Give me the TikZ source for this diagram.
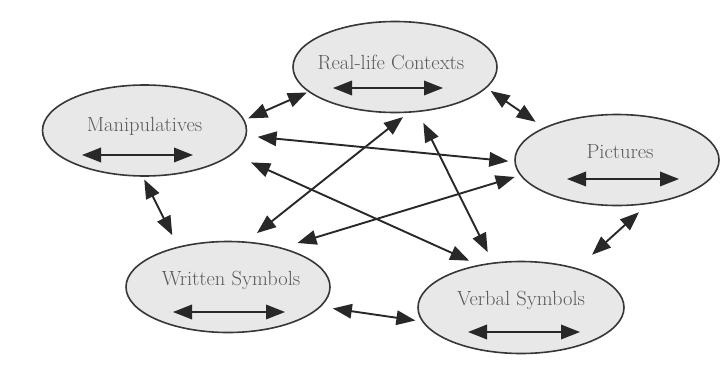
\documentclass[tikz,border=0pt]{standalone}
\usepackage{fontspec}
\usetikzlibrary{shapes.geometric,arrows.meta}
\definecolor{fillgray}{RGB}{232,232,232}
\definecolor{edgegray}{RGB}{55,55,55}
\definecolor{textgray}{RGB}{90,90,90}
\definecolor{linegray}{RGB}{40,40,40}
\begin{document}
\begin{tikzpicture}[x=1pt,y=-1pt,
  rep/.style={ellipse, draw=edgegray, line width=1.6pt, fill=fillgray,
    minimum width=204pt, minimum height=91pt, inner sep=0pt},
  lbl/.style={anchor=base, text=textgray, font=\fontsize{20.5}{24}\selectfont, inner sep=0pt},
  link/.style={{Triangle[length=19pt,width=14.5pt]}-{Triangle[length=19pt,width=14.5pt]},
    draw=linegray, line width=1.9pt}]
\useasboundingbox (0,0) rectangle (720,383);

% the five representations
\node[rep] (R) at (395,67)  {};
\node[rep] (M) at (144.5,130.5) {};
\node[rep] (P) at (617,160) {};
\node[rep] (W) at (228,287) {};
\node[rep, minimum width=206pt, minimum height=92pt] (V) at (521,307.5) {};

% names
\node[lbl] (Rt) at ([shift={(-4,2)}]R.center) {Real-life Contexts};
\node[lbl] (Mt) at ([shift={(0,0.5)}]M.center) {Manipulatives};
\node[lbl] (Pt) at ([shift={(3,-2)}]P.center) {Pictures};
\node[lbl] (Wt) at ([shift={(3,-2)}]W.center) {Written Symbols};
\node[lbl] (Vt) at ([shift={(0,-2.5)}]V.center) {Verbal Symbols};

% translations within each representation
\draw[link] ([shift={(-62,21)}]R.center) -- ([shift={(48,21)}]R.center);
\draw[link] ([shift={(-62.5,24.5)}]M.center) -- ([shift={(48.5,24.5)}]M.center);
\draw[link] ([shift={(-50,19)}]P.center) -- ([shift={(62,19)}]P.center);
\draw[link] ([shift={(-55,25)}]W.center) -- ([shift={(57,25)}]W.center);
\draw[link] ([shift={(-53,24.5)}]V.center) -- ([shift={(59,24.5)}]V.center);

% translations between representations
\draw[link, shorten <=4pt,  shorten >=1.5pt] (M.6.6)   -- (R.196);
\draw[link, shorten <=5pt,  shorten >=10pt]  (R.-13.7) -- (P.156.9);
\draw[link, shorten <=11pt, shorten >=6pt]   (M.-3.5)  -- (P.181.6);
\draw[link, shorten <=20pt, shorten >=10pt]  (M.-15.8) -- (V.135.6);
\draw[link, shorten <=6.6pt,shorten >=13.5pt](R.-74.6) -- (W.68.9);
\draw[link, shorten <=12pt, shorten >=11.5pt](R.-63)   -- (V.122.2);
\draw[link, shorten <=5.6pt,shorten >=16pt]  (P.189.6) -- (W.36.4);
\draw[link, shorten <=3pt,  shorten >=12.7pt](M.-92.3) -- (W.141.9);
\draw[link, shorten <=12pt, shorten >=20pt]  (P.-55.1) -- (V.35.7);
\draw[link, shorten <=12pt, shorten >=6.6pt] (W.-12.6) -- (V.188.7);
\end{tikzpicture}
\end{document}
